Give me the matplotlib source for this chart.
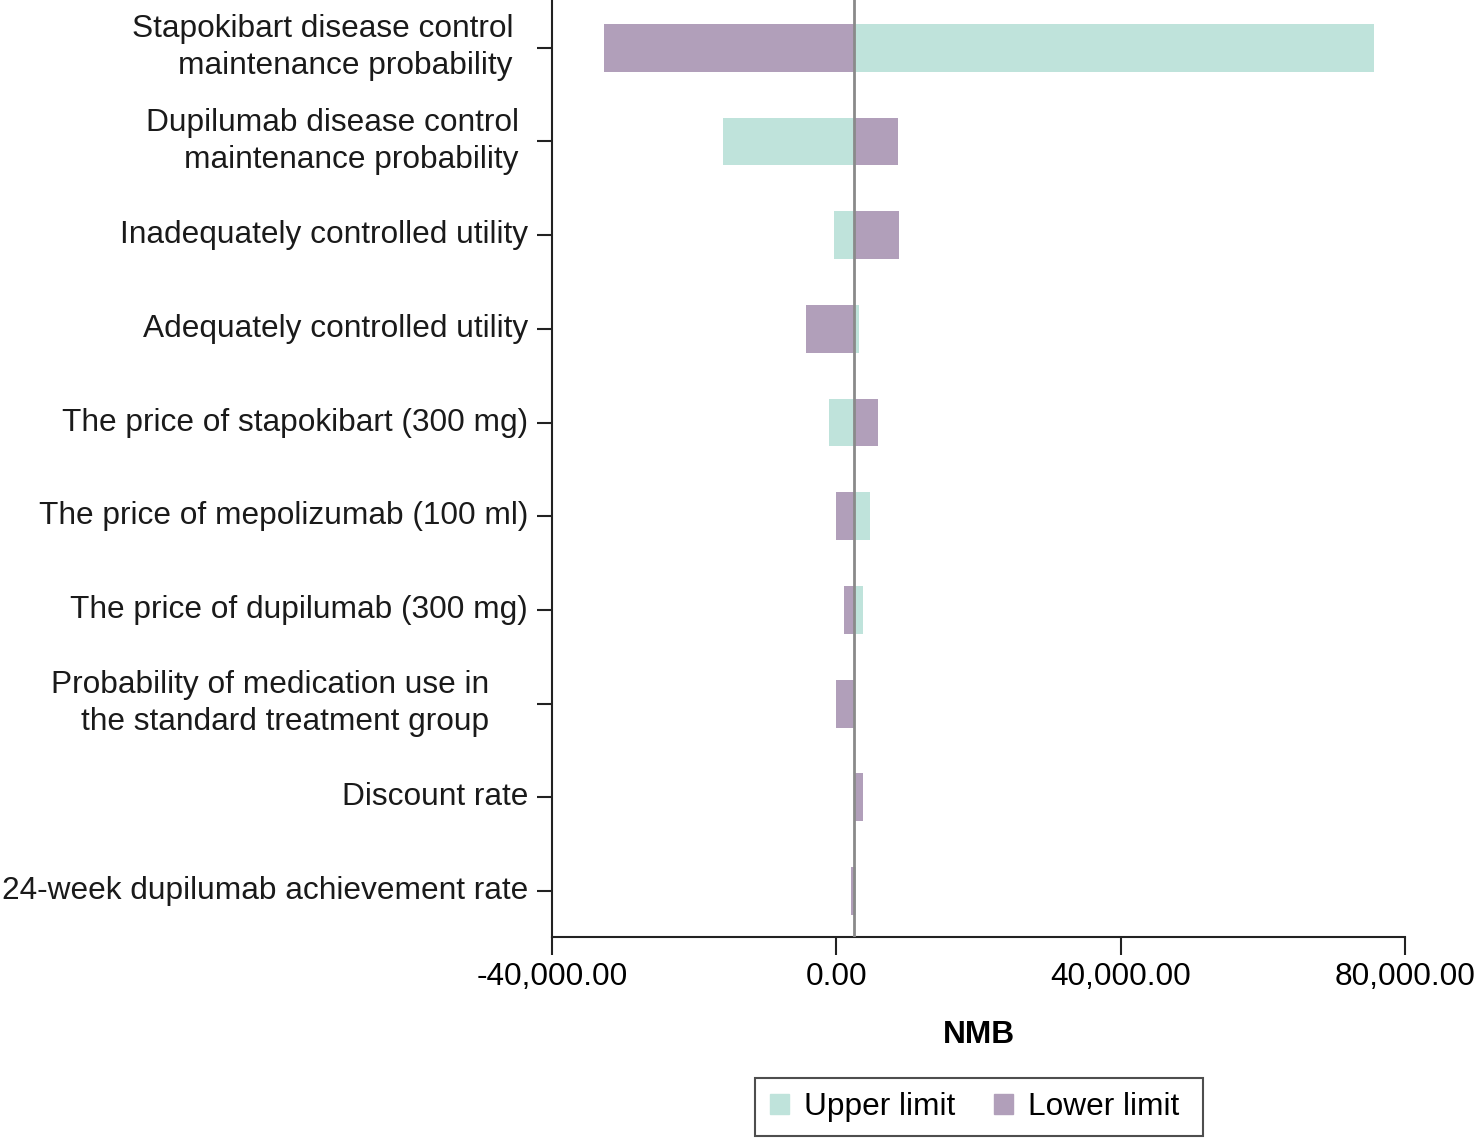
import numpy as np
import matplotlib
matplotlib.use("Agg")
from matplotlib import pyplot as plt
from matplotlib.patches import Patch
from matplotlib.ticker import FuncFormatter

plt.rcParams['font.family'] = ['Liberation Sans', 'DejaVu Sans']

# one-way sensitivity analysis (tornado), NMB values
labels = [
    "Stapokibart disease control\nmaintenance probability",
    "Dupilumab disease control\nmaintenance probability",
    "Inadequately controlled utility",
    "Adequately controlled utility",
    "The price of stapokibart (300 mg)",
    "The price of mepolizumab (100 ml)",
    "The price of dupilumab (300 mg)",
    "Probability of medication use in\nthe standard treatment group",
    "Discount rate",
    "24-week dupilumab achievement rate",
]
base = 2460
upper = [75600, -15900, -300, 3200, -1000, 4800, 3700, 2460, 2460, 2700]
lower = [-32700, 8700, 8850, -4200, 5800, 0, 1100, 0, 3700, 2100]

# extra offset (px) for the two-line labels, as in the original
label_shift = [15, 9, 0, 0, 0, 0, 0, 39, 0, 0]

teal = '#bfe3db'
purple = '#b19fba'
fs = 22.8

fig = plt.figure(figsize=(14.76, 11.39), dpi=100)
ax = fig.add_axes([552 / 1476, 1 - 937 / 1139, 853 / 1476, 937 / 1139])

y = np.arange(len(labels))
ax.barh(y, np.array(upper) - base, left=base, height=0.51, color=teal, zorder=2)
ax.barh(y, np.array(lower) - base, left=base, height=0.51, color=purple, zorder=2)
ax.axvline(base, color='#8a8a8a', lw=2, zorder=3)

ax.set_xlim(-40000, 80000)
ax.set_ylim(len(labels) - 0.51, -0.51)
ax.set_xticks([-40000, 0, 40000, 80000])
ax.xaxis.set_major_formatter(FuncFormatter(lambda v, p: f"{v:,.2f}"))
ax.set_yticks(y)
ax.set_yticklabels([])

for s in ['top', 'right']:
    ax.spines[s].set_visible(False)
for s in ['left', 'bottom']:
    ax.spines[s].set_linewidth(1.5)
    ax.spines[s].set_color('#222222')

ax.tick_params(axis='x', length=13, width=1.5, color='#222222', labelsize=fs, pad=5)
ax.tick_params(axis='y', length=11, width=1.5, color='#222222')

for i, lab in enumerate(labels):
    ax.annotate(lab, xy=(0, i), xycoords=('axes fraction', 'data'),
                xytext=(-(24 + label_shift[i]) * 0.72, 0), textcoords='offset points',
                ha='right', va='center', multialignment='right',
                fontsize=fs, linespacing=1.32, color='#1a1a1a')

ax.set_xlabel('NMB', fontsize=fs, fontweight='bold', labelpad=20)

handles = [Patch(color=teal, label='Upper limit'), Patch(color=purple, label='Lower limit ')]
leg = fig.legend(handles=handles, loc='center', bbox_to_anchor=(979 / 1476, 1 - 1107 / 1139),
                 ncol=2, fontsize=fs, frameon=True, fancybox=False, edgecolor='#222222',
                 handlelength=0.6, handleheight=0.6, columnspacing=1.25, handletextpad=0.47,
                 borderpad=0.45)
leg.get_frame().set_linewidth(1.5)

fig.savefig('out.png', dpi=100)
